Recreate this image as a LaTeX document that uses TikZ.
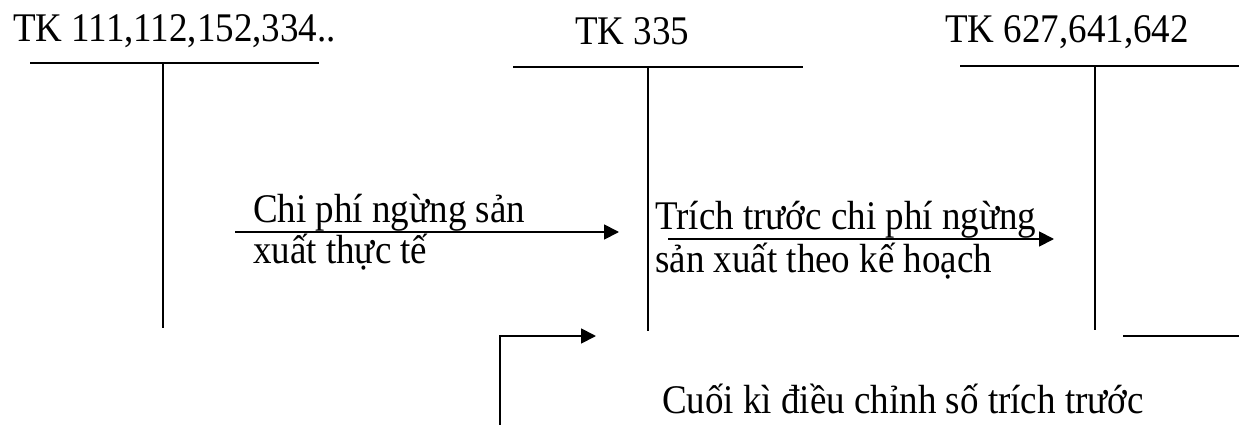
\documentclass[tikz,border=0pt]{standalone}
\usepackage{fontspec}
\setmainfont{Liberation Serif}
\usetikzlibrary{arrows.meta}
% text set slightly taller than its natural proportions
\newcommand{\tallword}[1]{\scalebox{1}[1.1]{#1}}
\begin{document}
\begin{tikzpicture}[x=1pt,y=-1pt,
  acct/.style={line width=1.8pt},
  flow/.style={line width=1.8pt,-{Triangle[length=15pt,width=15pt]}},
  lbl/.style={anchor=base west,inner sep=0pt,font=\fontsize{37}{42}\selectfont}]
\useasboundingbox (0,0) rectangle (1239,425);

% account headings
\node[lbl] (h1) at (13,42) {\tallword{TK 111,112,152,334..}};
\node[lbl] (h2) at (575,45) {\tallword{TK 335}};
\node[lbl] (h3) at (945,43) {\tallword{TK 627,641,642}};

% T-account frames
\coordinate (a1l) at (30,63);  \coordinate (a1r) at (319,63);
\coordinate (a1t) at (163,63); \coordinate (a1b) at (163,328);
\coordinate (a2l) at (513,67); \coordinate (a2r) at (803,67);
\coordinate (a2t) at (648,67); \coordinate (a2b) at (648,331);
\coordinate (a3l) at (960,66); \coordinate (a3r) at (1239,66);
\coordinate (a3t) at (1095,66); \coordinate (a3b) at (1095,330);
\coordinate (a3cl) at (1123,336); \coordinate (a3cr) at (1239,336);
\draw[acct] (a1l) -- (a1r) (a1t) -- (a1b);
\draw[acct] (a2l) -- (a2r) (a2t) -- (a2b);
\draw[acct] (a3l) -- (a3r) (a3t) -- (a3b);
\draw[acct] (a3cl) -- (a3cr);

% entries
\coordinate (f1s) at (235,232); \coordinate (f1e) at (619,232);
\draw[flow] (f1s) -- (f1e);
\node[lbl] (l1a) at (253,222) {\tallword{Chi phí ngừng sản}};
\node[lbl] (l1b) at (253,263) {\tallword{xuất thực tế}};

\coordinate (f2s) at (668,239); \coordinate (f2e) at (1054,239);
\draw[flow] (f2s) -- (f2e);
\node[lbl] (l2a) at (655,229) {\tallword{Trích trước chi phí ngừng}};
\node[lbl] (l2b) at (655,272) {\tallword{sản xuất theo kế hoạch}};

\coordinate (f3s) at (500,425); \coordinate (f3c) at (500,336); \coordinate (f3e) at (596,336);
\draw[flow] (f3s) -- (f3c) -- (f3e);
\node[lbl] (l3) at (662,413) {\tallword{Cuối kì điều chỉnh số trích trước}};
\end{tikzpicture}
\end{document}
